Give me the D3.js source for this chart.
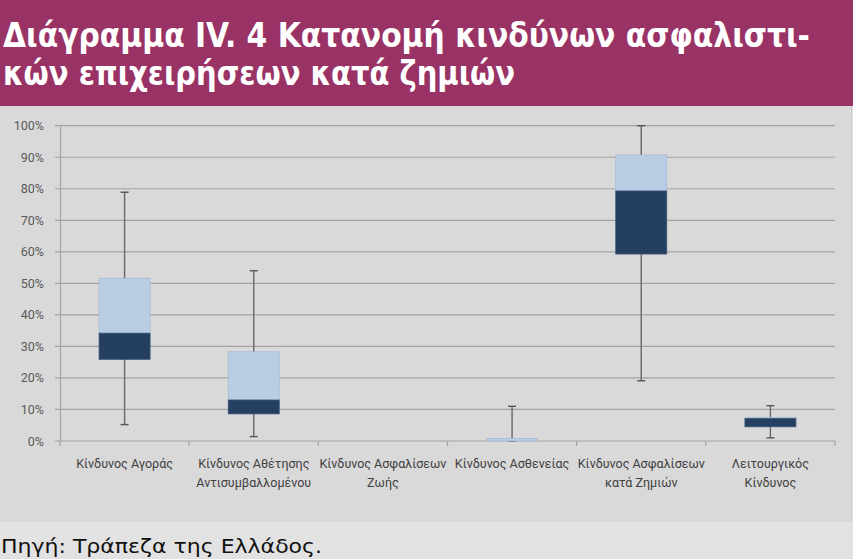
<!DOCTYPE html>
<html><head><meta charset="utf-8">
<script src="https://cdn.jsdelivr.net/npm/d3@7"></script>
<style>html,body{margin:0;padding:0;background:#e2e2e2;overflow:hidden}</style>
</head><body>
<svg id="c" width="853" height="559"></svg>
<script>
const titleLines = ["Διάγραμμα IV. 4 Κατανομή κινδύνων ασφαλιστι-", "κών επιχειρήσεων κατά ζημιών"];
const source = "Πηγή: Τράπεζα της Ελλάδος.";
const categories = ["Κίνδυνος Αγοράς", "Κίνδυνος Αθέτησης Αντισυμβαλλομένου", "Κίνδυνος Ασφαλίσεων Ζωής", "Κίνδυνος Ασθενείας", "Κίνδυνος Ασφαλίσεων κατά Ζημιών", "Λειτουργικός Κίνδυνος"];
const categoryLines = [["Κίνδυνος Αγοράς"], ["Κίνδυνος Αθέτησης", "Αντισυμβαλλομένου"], ["Κίνδυνος Ασφαλίσεων", "Ζωής"], ["Κίνδυνος Ασθενείας"], ["Κίνδυνος Ασφαλίσεων", "κατά Ζημιών"], ["Λειτουργικός", "Κίνδυνος"]];
const minValues    = [0.052, 0.014, null, 0.0,   0.191, 0.010];
const q1Values     = [0.259, 0.086, null, 0.0,   0.593, 0.045];
const medianValues = [0.342, 0.130, null, 0.0,   0.793, 0.071];
const q3Values     = [0.516, 0.283, null, 0.008, 0.907, 0.075];
const maxValues    = [0.789, 0.540, null, 0.110, 1.000, 0.112];
const yTicks = [0, 0.1, 0.2, 0.3, 0.4, 0.5, 0.6, 0.7, 0.8, 0.9, 1.0];

const svg = d3.select("#c");
// backgrounds
svg.append("rect").attr("x",0).attr("y",0).attr("width",853).attr("height",559).attr("fill","#e2e2e2");
svg.append("rect").attr("x",0).attr("y",106).attr("width",851).attr("height",416).attr("fill","#d9d9d9");
svg.append("rect").attr("x",0).attr("y",0).attr("width",853).attr("height",106).attr("fill","#9a3365");

// title
titleLines.forEach((t,i)=>{
  const tx = svg.append("text").attr("x",3).attr("y",[47,85][i])
    .attr("fill","#ffffff").attr("font-family","'DejaVu Sans Condensed','DejaVu Sans',sans-serif")
    .attr("font-weight","bold").attr("font-size",33).text(t);
  tx.attr("textLength",[807,512][i]).attr("lengthAdjust","spacingAndGlyphs");
});

const x = d3.scaleBand().domain(categories).range([60,835]).paddingInner(0).paddingOuter(0);
const y = d3.scaleLinear().domain([0,1]).range([441,125.7]);

// gridlines
const g = svg.append("g");
g.selectAll("line.grid").data(yTicks).enter().append("line")
  .attr("x1",55).attr("x2",835).attr("y1",d=>y(d)).attr("y2",d=>y(d))
  .attr("stroke","#a3a3a3").attr("stroke-width",1.2);

// y axis
const yAxis = d3.axisLeft(y).tickValues(yTicks).tickFormat(d3.format(".0%")).tickSize(0).tickPadding(16);
const ya = svg.append("g").attr("transform","translate(60,0)").call(yAxis);
ya.select(".domain").attr("stroke","#a3a3a3").attr("stroke-width",1.2);
ya.selectAll("text").attr("font-family","'Liberation Sans Narrow','Roboto',sans-serif").attr("font-size",12.5).attr("fill","#595959");

// x axis ticks at band edges
const edges = categories.map(c=>x(c)).concat([x.range()[1]]);
svg.selectAll("line.xt").data(edges).enter().append("line")
  .attr("x1",d=>d).attr("x2",d=>d).attr("y1",441).attr("y2",446)
  .attr("stroke","#a3a3a3").attr("stroke-width",1.2);

// x labels
const lab = svg.append("g");
categories.forEach((c,i)=>{
  const t = lab.append("text").attr("x",x(c)+x.bandwidth()/2).attr("text-anchor","middle")
    .attr("font-family","'Liberation Sans Narrow','Roboto',sans-serif").attr("font-size",12.5).attr("fill","#404040");
  categoryLines[i].forEach((l,j)=>{
    t.append("tspan").attr("x",x(c)+x.bandwidth()/2).attr("y",468+j*18.5).text(l);
  });
});

// boxes
const bw = 51;
categories.forEach((c,i)=>{
  if (maxValues[i]===null) return;
  const cx = x(c)+x.bandwidth()/2;
  const bg = svg.append("g");
  bg.append("line").attr("x1",cx).attr("x2",cx).attr("y1",y(maxValues[i])).attr("y2",y(minValues[i]))
    .attr("stroke","#676767").attr("stroke-width",1.4);
  [maxValues[i],minValues[i]].forEach(v=>{
    bg.append("line").attr("x1",cx-4).attr("x2",cx+4).attr("y1",y(v)).attr("y2",y(v))
      .attr("stroke","#555555").attr("stroke-width",1.4);
  });
  // light upper part: median -> q3
  bg.append("rect").attr("x",cx-bw/2).attr("width",bw)
    .attr("y",y(q3Values[i])).attr("height",Math.max(y(medianValues[i])-y(q3Values[i]),0))
    .attr("fill","#b9cde5").attr("stroke","#a7bcd6").attr("stroke-width",0.8);
  // dark lower part: q1 -> median
  if (medianValues[i]>q1Values[i]) {
    bg.append("rect").attr("x",cx-bw/2).attr("width",bw)
      .attr("y",y(medianValues[i])).attr("height",y(q1Values[i])-y(medianValues[i]))
      .attr("fill","#243f60").attr("stroke","#3a5578").attr("stroke-width",0.8);
  }
});

// source
svg.append("text").attr("x",1).attr("y",553).attr("fill","#111111")
  .attr("font-family","'DejaVu Sans',sans-serif").attr("font-size",20)
  .attr("textLength",321).attr("lengthAdjust","spacingAndGlyphs").text(source);
svg.append("line").attr("x1",851.5).attr("x2",851.5).attr("y1",106).attr("y2",522).attr("stroke","#c9c9c9");
</script>
</body></html>
